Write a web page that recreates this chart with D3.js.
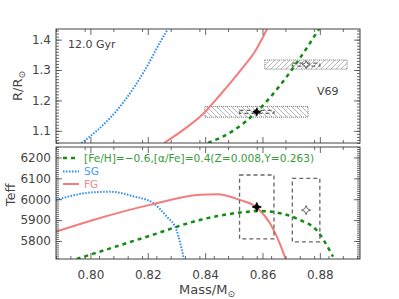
<!DOCTYPE html>
<html><head><meta charset="utf-8">
<script src="https://cdn.jsdelivr.net/npm/d3@7"></script>
<style>body{margin:0;background:#fff}svg{display:block}text{font-family:"DejaVu Sans",sans-serif}</style>
</head><body><svg id="c" width="399" height="299"></svg>
<script>
// ---------- data ----------
const xTicks = [0.80, 0.82, 0.84, 0.86, 0.88];
const rTicks = [1.1, 1.2, 1.3, 1.4];
const tTicks = [5800, 5900, 6000, 6100, 6200];

// Top panel: radius vs mass
const sgRMass = [0.7969, 0.8022, 0.8120, 0.8190, 0.8248, 0.8270];
const sgR     = [1.060, 1.100, 1.200, 1.300, 1.400, 1.435];
const fgRMass = [0.8257, 0.8319, 0.8382, 0.8452, 0.8522, 0.8577, 0.8616];
const fgR     = [1.060, 1.100, 1.146, 1.218, 1.297, 1.366, 1.435];
const feRMass = [0.8410, 0.8497, 0.8580, 0.8660, 0.8718, 0.8797];
const feR     = [1.060, 1.100, 1.163, 1.248, 1.322, 1.435];

// Bottom panel: Teff vs mass
const sgTMass = [0.7880, 0.8000, 0.8068, 0.8150, 0.8219, 0.8266, 0.8300, 0.8326];
const sgT     = [5997, 6032, 6036, 6014, 5981, 5917, 5853, 5714];
const fgTMass = [0.7880, 0.8010, 0.8207, 0.8382, 0.8440, 0.8521, 0.8579, 0.8626, 0.8660, 0.8681];
const fgT     = [5845, 5901, 5973, 6021, 6024, 5997, 5962, 5885, 5789, 5714];
const feTMass = [0.7952, 0.8207, 0.8382, 0.8452, 0.8521, 0.8591, 0.8672, 0.8730, 0.8788, 0.8846];
const feT     = [5714, 5825, 5901, 5922, 5936, 5944, 5930, 5901, 5853, 5725];

// Observations (two stars): masses, radii, Teff with uncertainties
const starMass   = [0.8580, 0.8752];
const starMassErr= [0.0060, 0.0048];
const starR      = [1.1625, 1.3180];
const starRErrS  = [0.0050, 0.0050];
const hatchMassLo= [0.8399, 0.8608];
const hatchMassHi= [0.8759, 0.8895];
const hatchRErr  = [0.0175, 0.0150];
const starT      = [5963, 5948];
const starTErr   = [153, 152];
const starFilled = [true, false];

const legendLabels = ["[Fe/H]=\u22120.6,[\u03b1/Fe]=0.4(Z=0.008,Y=0.263)", "SG", "FG"];

// ---------- drawing ----------
const svg = d3.select("#c");
const L = 56, R = 360;
const top1 = 29, bot1 = 143, top2 = 147, bot2 = 259;
const x = d3.scaleLinear().domain([0.788, 0.894]).range([L, R]);
const yR = d3.scaleLinear().domain([1.06, 1.435]).range([bot1, top1]);
const yT = d3.scaleLinear().domain([5714, 6250]).range([bot2, top2]);

const GREEN = "#148c14", BLUE = "#2b8cf0", RED = "#f47c7c", AX = "#444";

const defs = svg.append("defs");
defs.append("clipPath").attr("id","cp1").append("rect").attr("x",L).attr("y",top1).attr("width",R-L).attr("height",bot1-top1);
defs.append("clipPath").attr("id","cp2").append("rect").attr("x",L).attr("y",top2).attr("width",R-L).attr("height",bot2-top2);
function hatch(id, dir){
  const p = defs.append("pattern").attr("id",id).attr("patternUnits","userSpaceOnUse").attr("width",5).attr("height",5);
  p.append("path").attr("d", dir>0 ? "M-1,6 L6,-1 M-1,1 L1,-1 M4,6 L6,4" : "M-1,-1 L6,6 M-1,4 L1,6 M4,-1 L6,1")
    .attr("stroke","#999").attr("stroke-width",0.7);
}
hatch("hb", -1); hatch("hf", 1);

const line = (xs, ys, yScale) => d3.line().curve(d3.curveMonotoneX)(xs.map((m,i)=>[x(m), yScale(ys[i])]));

function starPath(cx, cy, s){
  const w = s*0.3;
  return `M${cx},${cy-s}L${cx+w},${cy-w}L${cx+s},${cy}L${cx+w},${cy+w}L${cx},${cy+s}L${cx-w},${cy+w}L${cx-s},${cy}L${cx-w},${cy-w}Z`;
}

// ----- top panel -----
const g1 = svg.append("g").attr("clip-path","url(#cp1)");
starMass.forEach((m,i)=>{
  g1.append("rect").attr("x", x(hatchMassLo[i])).attr("y", yR(starR[i]+hatchRErr[i]))
    .attr("width", x(hatchMassHi[i])-x(hatchMassLo[i])).attr("height", yR(starR[i]-hatchRErr[i])-yR(starR[i]+hatchRErr[i]))
    .attr("fill", i===0 ? "url(#hb)" : "url(#hf)").attr("stroke","#555").attr("stroke-width",0.8).attr("stroke-dasharray","1,1");
});
g1.append("path").attr("d", line(sgRMass, sgR, yR)).attr("fill","none").attr("stroke",BLUE).attr("stroke-width",2).attr("stroke-dasharray","1.5,1.5");
g1.append("path").attr("d", line(fgRMass, fgR, yR)).attr("fill","none").attr("stroke",RED).attr("stroke-width",2);
g1.append("path").attr("d", line(feRMass, feR, yR)).attr("fill","none").attr("stroke",GREEN).attr("stroke-width",2.5).attr("stroke-dasharray","4,4");
starMass.forEach((m,i)=>{
  g1.append("rect").attr("x", x(m-starMassErr[i])).attr("y", yR(starR[i]+starRErrS[i]))
    .attr("width", x(m+starMassErr[i])-x(m-starMassErr[i])).attr("height", yR(starR[i]-starRErrS[i])-yR(starR[i]+starRErrS[i]))
    .attr("fill","none").attr("stroke","#666").attr("stroke-width",1.3).attr("stroke-dasharray","4,3");
  g1.append("path").attr("d", starPath(x(m), yR(starR[i]), 4))
    .attr("fill", starFilled[i] ? "#000" : "#fff").attr("stroke", starFilled[i] ? "#000" : "#555").attr("stroke-width",0.9);
});
svg.append("text").attr("x",68).attr("y",48).attr("font-size",11).attr("fill",AX).text("12.0 Gyr");
svg.append("text").attr("x",317).attr("y",95).attr("font-size",11).attr("fill",AX).text("V69");

// ----- bottom panel -----
const g2 = svg.append("g").attr("clip-path","url(#cp2)");
g2.append("path").attr("d", line(sgTMass, sgT, yT)).attr("fill","none").attr("stroke",BLUE).attr("stroke-width",2).attr("stroke-dasharray","1.5,1.5");
g2.append("path").attr("d", line(fgTMass, fgT, yT)).attr("fill","none").attr("stroke",RED).attr("stroke-width",2);
g2.append("path").attr("d", line(feTMass, feT, yT)).attr("fill","none").attr("stroke",GREEN).attr("stroke-width",2.5).attr("stroke-dasharray","4,4");
starMass.forEach((m,i)=>{
  g2.append("rect").attr("x", x(m-starMassErr[i])).attr("y", yT(starT[i]+starTErr[i]))
    .attr("width", x(m+starMassErr[i])-x(m-starMassErr[i])).attr("height", yT(starT[i]-starTErr[i])-yT(starT[i]+starTErr[i]))
    .attr("fill","none").attr("stroke","#666").attr("stroke-width",1.3).attr("stroke-dasharray","4,3");
  g2.append("path").attr("d", starPath(x(m), yT(starT[i]), 4.5))
    .attr("fill", starFilled[i] ? "#000" : "#fff").attr("stroke", starFilled[i] ? "#000" : "#555").attr("stroke-width",0.9);
});

// legend
const legY = [158, 171.5, 184];
const legStyle = [
  {c:GREEN, w:2.5, d:"4,4", tc:"#3a9a3a"},
  {c:BLUE, w:2, d:"1.5,1.5", tc:"#4a9cf0"},
  {c:RED, w:2, d:null, tc:"#f48a8a"}
];
legendLabels.forEach((t,i)=>{
  const s = legStyle[i];
  const ln = svg.append("line").attr("x1",63).attr("x2",79).attr("y1",legY[i]).attr("y2",legY[i])
    .attr("stroke",s.c).attr("stroke-width",s.w);
  if (s.d) ln.attr("stroke-dasharray", s.d);
  svg.append("text").attr("x",84).attr("y",legY[i]).attr("dy","0.36em").attr("font-size",10.6).attr("fill",s.tc).text(t);
});

// ----- axes -----
function range(a,b,s){const r=[];for(let v=a;v<=b+s/2;v+=s)r.push(+v.toFixed(6));return r;}
function drawAxes(yScale, yTop, yBot, yMaj, yMin, xMin, xMinBottom, showX){
  const yMinor = range(yMin[0], yMin[1], yMin[2]).filter(v=>v>=yScale.domain()[0]&&v<=yScale.domain()[1]);
  const xMinor = range(0.788, 0.894, xMin).filter(v=>v>=0.788&&v<=0.894);
  const xMinorB = range(0.788, 0.894, xMinBottom).filter(v=>v>=0.788&&v<=0.894);
  const ax = [];
  ax.push(svg.append("g").attr("transform",`translate(${L},0)`).call(d3.axisLeft(yScale).tickValues(yMaj).tickSize(-6).tickPadding(5).tickFormat(d=>yScale===yR?d3.format(".1f")(d):d)));
  ax.push(svg.append("g").attr("transform",`translate(${L},0)`).call(d3.axisLeft(yScale).tickValues(yMinor).tickSize(-3).tickFormat("")));
  ax.push(svg.append("g").attr("transform",`translate(${R},0)`).call(d3.axisRight(yScale).tickValues(yMaj).tickSize(-6).tickFormat("")));
  ax.push(svg.append("g").attr("transform",`translate(${R},0)`).call(d3.axisRight(yScale).tickValues(yMinor).tickSize(-3).tickFormat("")));
  ax.push(svg.append("g").attr("transform",`translate(0,${yBot})`).call(d3.axisBottom(x).tickValues(xTicks).tickSize(-6).tickPadding(11).tickFormat(showX?d3.format(".2f"):"")));
  ax.push(svg.append("g").attr("transform",`translate(0,${yBot})`).call(d3.axisBottom(x).tickValues(xMinorB).tickSize(-3).tickFormat("")));
  ax.push(svg.append("g").attr("transform",`translate(0,${yTop})`).call(d3.axisTop(x).tickValues(xTicks).tickSize(-6).tickFormat("")));
  ax.push(svg.append("g").attr("transform",`translate(0,${yTop})`).call(d3.axisTop(x).tickValues(xMinor).tickSize(-3).tickFormat("")));
  ax.forEach(a=>{
    a.select(".domain").remove();
    a.selectAll("line").attr("stroke",AX).attr("stroke-width",0.8);
    a.selectAll("text").attr("fill",AX).attr("font-size",12).attr("font-family","DejaVu Sans");
  });
  svg.append("rect").attr("x",L).attr("y",yTop).attr("width",R-L).attr("height",yBot-yTop)
    .attr("fill","none").attr("stroke",AX).attr("stroke-width",1);
}
drawAxes(yR, top1, bot1, rTicks, [1.06,1.435,0.01], 0.01, 0.01, false);
drawAxes(yT, top2, bot2, tTicks, [5720,6250,10], 0.01, 0.005, true);

// axis titles
const t1 = svg.append("text").attr("transform",`translate(22,86) rotate(-90)`).attr("text-anchor","middle").attr("font-size",13).attr("fill",AX);
t1.append("tspan").text("R/R");
t1.append("tspan").attr("font-size",9).attr("dy",3).text("\u2299");
svg.append("text").attr("transform",`translate(15,195) rotate(-90)`).attr("text-anchor","middle").attr("font-size",13).attr("fill",AX).text("Teff");
const t3 = svg.append("text").attr("x",207).attr("y",294).attr("text-anchor","middle").attr("font-size",13).attr("fill",AX);
t3.append("tspan").text("Mass/M");
t3.append("tspan").attr("font-size",9).attr("dy",3).text("\u2299");
</script></body></html>
